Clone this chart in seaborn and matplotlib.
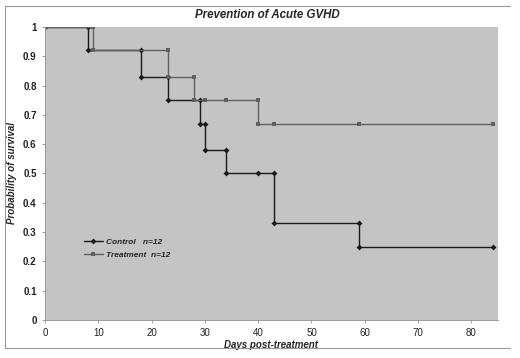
import matplotlib
matplotlib.use("Agg")
from matplotlib import pyplot as plt
from matplotlib.lines import Line2D
import numpy as np
import pandas as pd
import seaborn as sns

# step vertices (days, survival)
control_days = [0, 8, 8, 18, 18, 23, 23, 29, 29, 30, 30, 34, 34, 40, 43, 43, 59, 59, 84]
control_surv = [1, 1, 0.92, 0.92, 0.83, 0.83, 0.75, 0.75, 0.67, 0.67, 0.58, 0.58, 0.5, 0.5, 0.5, 0.33, 0.33, 0.25, 0.25]

treat_days = [0, 9, 9, 23, 23, 28, 28, 30, 34, 40, 40, 43, 59, 84]
treat_surv = [1, 1, 0.92, 0.92, 0.83, 0.83, 0.75, 0.75, 0.75, 0.75, 0.67, 0.67, 0.67, 0.67]

groups = ["Control   n=12", "Treatment  n=12"]
xticks = [0, 10, 20, 30, 40, 50, 60, 70, 80]
yticks = [0, 0.1, 0.2, 0.3, 0.4, 0.5, 0.6, 0.7, 0.8, 0.9, 1]

df = pd.concat([
    pd.DataFrame({"days": control_days, "surv": control_surv, "group": groups[0]}),
    pd.DataFrame({"days": treat_days, "surv": treat_surv, "group": groups[1]}),
], ignore_index=True)

sns.set_style("ticks")
plt.rcParams['font.family'] = ['Liberation Sans', 'DejaVu Sans']

fig = plt.figure(figsize=(5.2, 3.58), dpi=100)
ax = fig.add_axes([45/520, 1-320/358, 453/520, 293/358])
ax.set_facecolor("#c4c4c4")

palette = {groups[0]: "#1a1a1a", groups[1]: "#606060"}
markers = {groups[0]: "D", groups[1]: "s"}
sns.lineplot(data=df, x="days", y="surv", hue="group", style="group",
             palette=palette, markers=markers, dashes=False, sort=False,
             estimator=None, lw=1.0, markersize=3, markeredgewidth=0,
             ax=ax)

ax.set_xlim(0, 85)
ax.set_ylim(0, 1)
ax.set_xticks(xticks)
ax.set_yticks(yticks)
ax.set_xticklabels([str(t) for t in xticks], fontsize=7, color="#222222")
ax.set_yticklabels([("%g" % t) for t in yticks], fontsize=7, fontweight="bold", color="#222222")
ax.tick_params(length=2, width=0.6, color="#888888", pad=4)
for s in ["top", "right"]:
    ax.spines[s].set_visible(False)
for s in ["left", "bottom"]:
    ax.spines[s].set_color("#999999")
    ax.spines[s].set_linewidth(0.7)

ax.set_xlabel("Days post-treatment", fontsize=7, fontweight="bold", style="italic", labelpad=1)
ax.set_ylabel("Probability of survival", fontsize=7, fontweight="bold", style="italic", labelpad=4)
fig.text(0.514, 1-15/358, "Prevention of Acute GVHD", ha="center", va="center",
         fontsize=8.3, fontweight="bold", style="italic")

leg = ax.legend(loc="center left", bbox_to_anchor=(0.07, 0.245), frameon=False,
                prop={"size": 6, "weight": "bold", "style": "italic"},
                handlelength=2.2, handletextpad=0.4, labelspacing=0.6)
leg.set_title(None)

# outer frame lines
fig.add_artist(Line2D([5/520, 510/520], [1-6/358, 1-6/358], color="#999999", lw=0.8))
fig.add_artist(Line2D([5/520, 510/520], [1-348/358, 1-348/358], color="#999999", lw=0.8))
fig.add_artist(Line2D([5/520, 5/520], [1-6/358, 1-348/358], color="#999999", lw=0.8))

plt.savefig("out.png", dpi=100)
